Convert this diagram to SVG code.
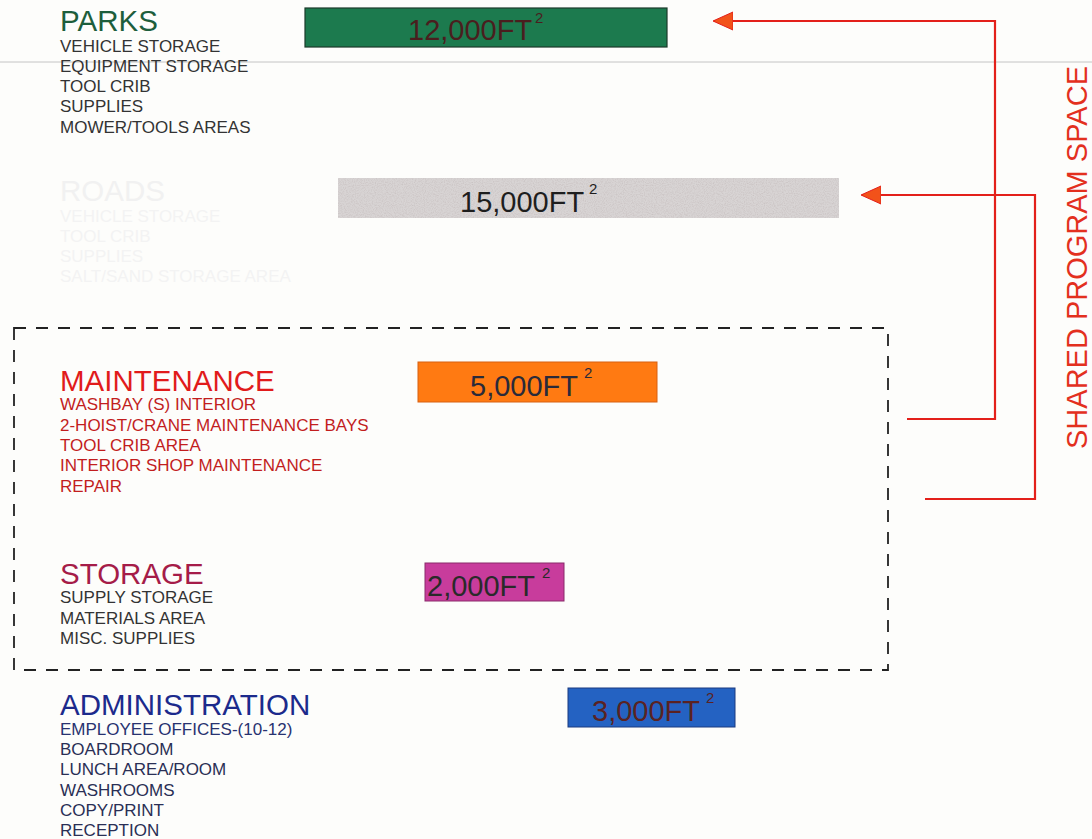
<svg xmlns="http://www.w3.org/2000/svg" width="1092" height="839" viewBox="0 0 1092 839">
<style>
.t{font-family:"Liberation Sans",Arial,sans-serif;font-size:29.5px}
.i{font-family:"Liberation Sans",Arial,sans-serif;font-size:17px}
.n{font-family:"Liberation Sans",Arial,sans-serif;font-size:29px}
.s{font-family:"Liberation Sans",Arial,sans-serif;font-size:15px}
.conn{fill:none;stroke:#e3201a;stroke-width:2.2}
</style>
<defs>
<marker id="ah" markerWidth="22" markerHeight="20" refX="19" refY="10" orient="auto" markerUnits="userSpaceOnUse">
<path d="M0,1 L20,10 L0,19 z" fill="#f2521a" stroke="#e3201a" stroke-width="1"/>
</marker>
<filter id="grain" x="0" y="0" width="1" height="1">
<feTurbulence type="fractalNoise" baseFrequency="0.9" numOctaves="2" seed="3" result="n"/>
<feColorMatrix in="n" type="matrix" values="0 0 0 0 0.55  0 0 0 0 0.5  0 0 0 0 0.5  0 0 0 1.4 -0.55" result="g"/>
<feComposite in="g" in2="SourceGraphic" operator="in" result="gc"/>
<feMerge><feMergeNode in="SourceGraphic"/><feMergeNode in="gc"/></feMerge>
</filter>
</defs>
<rect width="1092" height="839" fill="#fdfdfb"/>
<line x1="0" y1="62" x2="1092" y2="62" stroke="#c4c4c4" stroke-width="1"/>

<g id="parks">
<text class="t" x="60" y="31" fill="#1d5e3c">PARKS</text>
<g class="i" fill="#333">
<text x="60" y="52">VEHICLE STORAGE</text>
<text x="60" y="72">EQUIPMENT STORAGE</text>
<text x="60" y="92">TOOL CRIB</text>
<text x="60" y="112">SUPPLIES</text>
<text x="60" y="133">MOWER/TOOLS AREAS</text>
</g>
<rect x="305" y="8" width="362" height="39" fill="#1c7a4e" stroke="#1b3a2a" stroke-width="1.2"/>
<text class="n" x="408" y="40" fill="#4a1e1e">12,000FT</text>
<text class="s" x="535" y="23" fill="#4a1e1e">2</text>
</g>

<g id="roads">
<text class="t" x="60" y="201" fill="#f1f1f1">ROADS</text>
<g class="i" fill="#f3f3f3">
<text x="60" y="222">VEHICLE STORAGE</text>
<text x="60" y="242">TOOL CRIB</text>
<text x="60" y="262">SUPPLIES</text>
<text x="60" y="282">SALT/SAND STORAGE AREA</text>
</g>
<rect x="338" y="178" width="501" height="40" fill="#d8d4d4" filter="url(#grain)"/>
<text class="n" x="460" y="212" fill="#1e1e1e">15,000FT</text>
<text class="s" x="589" y="194" fill="#1e1e1e">2</text>
</g>

<g id="shared-box">
<rect x="14" y="328" width="874" height="342" fill="none" stroke="#222" stroke-width="1.8" stroke-dasharray="12,10"/>
</g>

<g id="maintenance">
<text class="t" x="60" y="391" fill="#e11b1b">MAINTENANCE</text>
<g class="i" fill="#c21e1e">
<text x="60" y="410">WASHBAY (S) INTERIOR</text>
<text x="60" y="431">2-HOIST/CRANE MAINTENANCE BAYS</text>
<text x="60" y="451">TOOL CRIB AREA</text>
<text x="60" y="471">INTERIOR SHOP MAINTENANCE</text>
<text x="60" y="492">REPAIR</text>
</g>
<rect x="418" y="362" width="239" height="40" fill="#ff7a12" stroke="#d86010" stroke-width="1"/>
<text class="n" x="470" y="396" fill="#2a2a3a">5,000FT</text>
<text class="s" x="584" y="378" fill="#2a2a3a">2</text>
</g>

<g id="storage">
<text class="t" x="60" y="584" fill="#a51c48">STORAGE</text>
<g class="i" fill="#333">
<text x="60" y="603">SUPPLY STORAGE</text>
<text x="60" y="624">MATERIALS AREA</text>
<text x="60" y="644">MISC. SUPPLIES</text>
</g>
<rect x="425" y="563" width="139" height="38" fill="#c83c9c" stroke="#8a2a6a" stroke-width="1"/>
<text class="n" x="427" y="596" fill="#2a2a2a">2,000FT</text>
<text class="s" x="542" y="578" fill="#2a2a2a">2</text>
</g>

<g id="administration">
<text class="t" x="60" y="715" fill="#1c2a8c">ADMINISTRATION</text>
<g class="i" fill="#2a2f55">
<text x="60" y="735" fill="#283270">EMPLOYEE OFFICES-(10-12)</text>
<text x="60" y="755">BOARDROOM</text>
<text x="60" y="775">LUNCH AREA/ROOM</text>
<text x="60" y="796">WASHROOMS</text>
<text x="60" y="816">COPY/PRINT</text>
<text x="60" y="836">RECEPTION</text>
</g>
<rect x="568" y="688" width="167" height="39" fill="#2462c2" stroke="#1a3a80" stroke-width="1"/>
<text class="n" x="592" y="721" fill="#5a2222">3,000FT</text>
<text class="s" x="706" y="703" fill="#5a2222">2</text>
</g>

<g id="connectors">
<path class="conn" d="M907 419 H995 V21 H714" marker-end="url(#ah)"/>
<path class="conn" d="M925 499 H1035 V195 H862" marker-end="url(#ah)"/>
</g>

<g id="shared-label">
<text x="0" y="0" transform="translate(1087,449) rotate(-90)" font-family="'Liberation Sans',Arial,sans-serif" font-size="30" fill="#e3301e" textLength="383" lengthAdjust="spacingAndGlyphs">SHARED PROGRAM SPACE</text>
</g>
</svg>
